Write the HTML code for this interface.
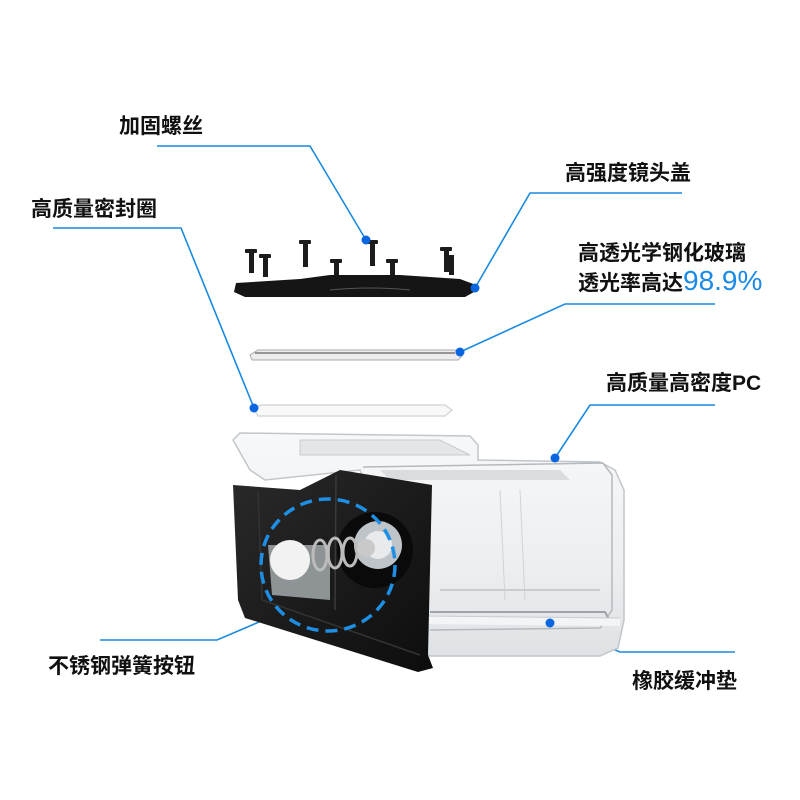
<!DOCTYPE html>
<html><head><meta charset="utf-8"><style>
html,body{margin:0;padding:0;background:#fff;}
svg{display:block;}
text{font-family:"Liberation Sans","Noto Sans CJK SC",sans-serif;font-size:21px;fill:#111;font-weight:700;}
</style></head><body>
<svg width="800" height="800" viewBox="0 0 800 800" xmlns="http://www.w3.org/2000/svg">
<defs>
<linearGradient id="clr" x1="0" y1="0" x2="0" y2="1">
<stop offset="0" stop-color="#f7f8f9"/><stop offset="0.6" stop-color="#eceef0"/><stop offset="1" stop-color="#dfe2e5"/>
</linearGradient>
<linearGradient id="blk" x1="0" y1="0" x2="1" y2="1">
<stop offset="0" stop-color="#2a2a2a"/><stop offset="1" stop-color="#0d0d0d"/>
</linearGradient>
</defs>

<g stroke="#1a8ae0" stroke-width="1.6" fill="none">
<polyline points="157,146 310,146 366,240"/>
<polyline points="682,193 530,193 475,288"/>
<polyline points="53,228 181,228 254,408"/>
<polyline points="715,304 565,304 460,352"/>
<polyline points="715,405 590,405 555,458"/>
<polyline points="100,640 217,640 280,613"/>
<polyline points="735,652 620,652 550,623"/>
</g>

<g fill="#1c1c1c">
<rect x="249" y="252" width="5" height="21"/><rect x="245" y="249" width="12" height="4" rx="1"/>
<rect x="263" y="257" width="5" height="20"/><rect x="259" y="254" width="12" height="4" rx="1"/>
<rect x="303" y="244" width="5" height="23"/><rect x="299" y="240" width="12" height="4" rx="1"/>
<rect x="334" y="262" width="5" height="15"/><rect x="330" y="259" width="12" height="4" rx="1"/>
<rect x="370" y="243" width="5" height="23"/><rect x="366" y="240" width="12" height="4" rx="1"/>
<rect x="390" y="262" width="5" height="15"/><rect x="386" y="259" width="12" height="4" rx="1"/>
<rect x="444" y="250" width="5" height="22"/><rect x="440" y="247" width="12" height="4" rx="1"/>
<rect x="449" y="255" width="5" height="20"/>
</g>
<path d="M236,283 L300,279 L330,275 L400,275 L460,279 L476,285 L474,292 L465,297 L245,297 L234,292 Z" fill="#151515"/>
<path d="M330,290 Q370,286 410,290" stroke="#555" stroke-width="1" fill="none"/>

<path d="M250,355 L258,350 L455,350 L462,356 L458,360 L252,360 Z" fill="#ececec" stroke="#aaa" stroke-width="1"/>
<line x1="255" y1="353" x2="455" y2="353" stroke="#777" stroke-width="1.5"/>

<path d="M253,408 L262,405 L445,405 L452,410 L445,416 L258,416 Z" fill="#f8f8f8" stroke="#d6d9dc" stroke-width="1.5"/>

<path d="M233,440 L240,433 L470,436 L478,445 L478,460 L600,462 L615,470 L624,490 L624,620 L618,648 L600,656 L430,656 L420,650 L360,470 L265,480 L250,470 Z" fill="url(#clr)" stroke="#c2c6ca" stroke-width="1.5"/>
<path d="M363,467 L603,463 L612,475 L612,610 L600,628 L430,630" fill="none" stroke="#b5b9bd" stroke-width="1.5"/>
<path d="M430,612 L605,612 L612,625" fill="none" stroke="#9ea3a8" stroke-width="2"/>
<path d="M425,620 L620,622" stroke="#f2f4f6" stroke-width="8" fill="none"/>
<path d="M425,616 L620,618" stroke="#c7ccd0" stroke-width="1"/>
<path d="M300,440 L440,440 L470,455 L300,455 Z" fill="#e3e6e8" stroke="#c8cbce"/>
<path d="M380,470 L560,470 L570,480 L390,480 Z" fill="#cfd3d6" opacity="0.7"/>
<line x1="500" y1="490" x2="505" y2="600" stroke="#d0d3d6" stroke-width="1"/>
<line x1="520" y1="490" x2="525" y2="600" stroke="#d0d3d6" stroke-width="1"/>
<path d="M440,590 L600,590" stroke="#c9cdd0" stroke-width="2"/>

<path d="M233,485 L300,490 L340,470 L432,485 L428,655 L433,668 L418,672 L245,618 L238,600 Z" fill="url(#blk)"/>
<path d="M258,490 L262,600 L420,655" fill="none" stroke="#333" stroke-width="1.5"/>
<path d="M336,475 L335,610" stroke="#3a3a3a" stroke-width="1.5"/>
<circle cx="375" cy="550" r="38" fill="#0a0a0a"/>
<circle cx="378" cy="545" r="24" fill="#bfc4c8"/>
<circle cx="378" cy="545" r="14" fill="#e8eaec"/>
<path d="M268,545 L330,545 L330,600 L272,595 Z" fill="#8e9396"/>
<circle cx="290" cy="560" r="20" fill="#f2f2f2"/>
<g fill="none" stroke="#bbb" stroke-width="3">
<ellipse cx="320" cy="555" rx="7" ry="15"/><ellipse cx="335" cy="553" rx="7" ry="15"/><ellipse cx="350" cy="552" rx="7" ry="14"/>
</g>
<circle cx="366" cy="548" r="9" fill="#c9c9c9"/>
<ellipse cx="328" cy="565" rx="67" ry="66" fill="none" stroke="#1d8fe5" stroke-width="3.5" stroke-dasharray="12 7"/>

<g fill="#0a66e0">
<circle cx="366" cy="240" r="4.5"/><circle cx="475" cy="288" r="4.5"/><circle cx="254" cy="408" r="4.5"/>
<circle cx="460" cy="352" r="4.5"/><circle cx="555" cy="458" r="4.5"/><circle cx="550" cy="623" r="4.5"/>
</g>

<text x="119" y="133">加固螺丝</text>
<text x="565" y="180">高强度镜头盖</text>
<text x="31" y="216">高质量密封圈</text>
<text x="578" y="260">高透光学钢化玻璃</text>
<text x="578" y="290">透光率高达<tspan style="fill:#1a8ae8;font-size:28px;font-family:'Liberation Sans',sans-serif;font-weight:400">98.9%</tspan></text>
<text x="606" y="390">高质量高密度PC</text>
<text x="48" y="673">不锈钢弹簧按钮</text>
<text x="632" y="688">橡胶缓冲垫</text>
</svg>
</body></html>
